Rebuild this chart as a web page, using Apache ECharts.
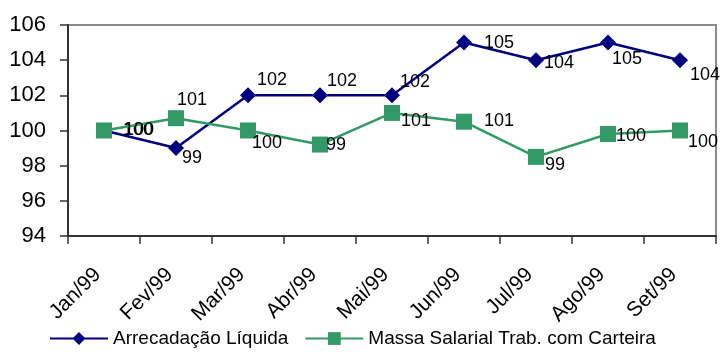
<!DOCTYPE html>
<html>
<head>
<meta charset="utf-8">
<script src="https://cdn.jsdelivr.net/npm/echarts@6/dist/echarts.min.js"></script>
<style>
  html, body { margin: 0; padding: 0; background: #fff; }
  #chart { width: 721px; height: 352px; }
</style>
</head>
<body>
<div id="chart"></div>
<script>
// Monthly indices, Jan/99 = 100
const months = ['Jan/99', 'Fev/99', 'Mar/99', 'Abr/99', 'Mai/99', 'Jun/99', 'Jul/99', 'Ago/99', 'Set/99'];
const arrecadacao = [100, 99, 102, 102, 102, 105, 104, 105, 104];
const massaSalarial = [100, 100.7, 100, 99.2, 101, 100.5, 98.5, 99.8, 100];
const yTicks = [94, 96, 98, 100, 102, 104, 106];

// Per-point nudges for the value labels so they sit clear of the lines
const arrecLabelShift = [[6, 0], [-7, 10], [-4, -15], [-6, -14], [-5, -13], [7, 0], [-5, 3], [-9, 16], [-3, 15]];
const massaLabelShift = [[7, 0], [-12, -18], [-9, 13], [-7, 0], [-4, 8], [7, -1], [-4, 8], [-5, 2], [-5, 12]];

const FONT = '"Liberation Sans", Arial, sans-serif';

function withLabels(values, shifts) {
  return values.map((v, i) => ({
    value: v,
    label: { offset: shifts[i] }
  }));
}

const chart = echarts.init(document.getElementById('chart'), null, { renderer: 'canvas' });

chart.setOption({
  animation: false,
  backgroundColor: '#ffffff',
  textStyle: { fontFamily: FONT },
  grid: {
    left: 68, right: 5, top: 25, bottom: 116,
    show: true,
    borderColor: '#8c8c8c',
    borderWidth: 2,
    backgroundColor: 'transparent'
  },
  legend: {
    left: 44,
    top: 324,
    itemWidth: 58,
    itemHeight: 16,
    itemGap: 16,
    textStyle: { fontFamily: FONT, fontSize: 19, color: '#000' },
    data: ['Arrecadação Líquida', 'Massa Salarial Trab. com Carteira']
  },
  xAxis: {
    type: 'category',
    data: months,
    boundaryGap: true,
    axisLine: { lineStyle: { color: '#333', width: 2 } },
    axisTick: { show: true, length: 8, inside: false, lineStyle: { color: '#333', width: 1.5 } },
    axisLabel: {
      rotate: 45,
      margin: 29,
      padding: [0, 9, 0, 0],
      fontFamily: FONT,
      fontSize: 21,
      color: '#000',
      interval: 0
    },
    splitLine: { show: false }
  },
  yAxis: {
    type: 'value',
    min: yTicks[0],
    max: yTicks[yTicks.length - 1],
    interval: 2,
    axisLine: { show: true, lineStyle: { color: '#333', width: 2 } },
    axisTick: { show: true, length: 8, lineStyle: { color: '#333', width: 1.5 } },
    axisLabel: {
      margin: 22,
      fontFamily: FONT,
      fontSize: 22,
      color: '#000'
    },
    splitLine: { show: false }
  },
  series: [
    {
      name: 'Arrecadação Líquida',
      type: 'line',
      data: withLabels(arrecadacao, arrecLabelShift),
      symbol: 'diamond',
      symbolSize: 16,
      itemStyle: { color: '#000080' },
      lineStyle: { color: '#000080', width: 2.5 },
      z: 3,
      label: {
        show: true,
        position: 'right',
        distance: 5,
        fontFamily: FONT,
        fontSize: 18,
        color: '#000',
        formatter: p => Math.round(p.value)
      }
    },
    {
      name: 'Massa Salarial Trab. com Carteira',
      type: 'line',
      data: withLabels(massaSalarial, massaLabelShift),
      symbol: 'rect',
      symbolSize: 16,
      itemStyle: { color: '#339966' },
      lineStyle: { color: '#339966', width: 2.5 },
      z: 4,
      label: {
        show: true,
        position: 'right',
        distance: 5,
        fontFamily: FONT,
        fontSize: 18,
        color: '#000',
        formatter: p => Math.round(p.value)
      }
    }
  ]
});
</script>
</body>
</html>
